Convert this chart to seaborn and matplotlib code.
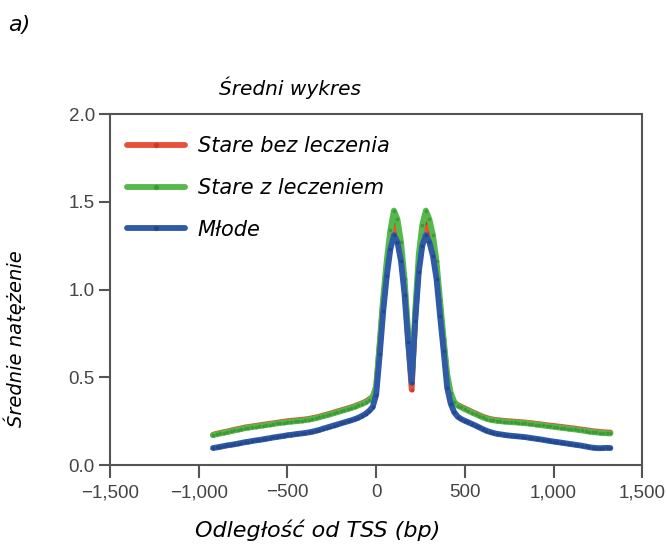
import numpy as np
import pandas as pd
import matplotlib
matplotlib.use('Agg')
import matplotlib.pyplot as plt
from matplotlib.lines import Line2D
from matplotlib.ticker import FuncFormatter
import seaborn as sns

# distance from TSS (bp), one point every 20 bp
odleglosc = np.arange(-920, 1321, 20)

stare_bez = [
    # -920 .. -20
    0.172, 0.178, 0.183, 0.187, 0.191, 0.196, 0.201, 0.205, 0.209, 0.214,
    0.217, 0.220, 0.223, 0.226, 0.229, 0.232, 0.235, 0.238, 0.241, 0.244,
    0.247, 0.250, 0.252, 0.254, 0.256, 0.258, 0.260, 0.263, 0.267, 0.271,
    0.276, 0.282, 0.287, 0.293, 0.299, 0.305, 0.311, 0.317, 0.323, 0.329,
    0.336, 0.344, 0.352, 0.361, 0.374, 0.389,
    # 0 .. 440
    0.44, 0.68, 0.93, 1.13, 1.29, 1.38, 1.33, 1.21, 1.01, 0.72,
    0.43, 0.84, 1.14, 1.30, 1.38, 1.33, 1.25, 1.10, 0.90, 0.69,
    0.50, 0.40, 0.35,
    # 460 .. 1320
    0.342, 0.332, 0.322, 0.313, 0.303, 0.294, 0.285, 0.276, 0.269, 0.263,
    0.259, 0.256, 0.254, 0.252, 0.250, 0.249, 0.247, 0.246, 0.244, 0.242,
    0.240, 0.238, 0.235, 0.233, 0.230, 0.227, 0.225, 0.223, 0.220, 0.218,
    0.215, 0.213, 0.210, 0.208, 0.205, 0.202, 0.199, 0.196, 0.193, 0.191,
    0.189, 0.187, 0.186, 0.185,
]

stare_z = [
    0.170, 0.175, 0.180, 0.184, 0.188, 0.192, 0.197, 0.201, 0.205, 0.210,
    0.213, 0.216, 0.219, 0.222, 0.225, 0.228, 0.231, 0.234, 0.237, 0.240,
    0.242, 0.245, 0.247, 0.249, 0.251, 0.253, 0.256, 0.259, 0.263, 0.267,
    0.272, 0.278, 0.283, 0.289, 0.295, 0.301, 0.307, 0.313, 0.319, 0.325,
    0.332, 0.340, 0.348, 0.357, 0.370, 0.385,
    0.45, 0.70, 0.96, 1.17, 1.34, 1.45, 1.40, 1.27, 1.06, 0.76,
    0.48, 0.88, 1.20, 1.37, 1.45, 1.40, 1.31, 1.16, 0.94, 0.72,
    0.52, 0.41, 0.36,
    0.338, 0.328, 0.318, 0.309, 0.299, 0.290, 0.281, 0.272, 0.265, 0.259,
    0.255, 0.252, 0.250, 0.248, 0.246, 0.245, 0.243, 0.242, 0.240, 0.238,
    0.236, 0.234, 0.231, 0.229, 0.226, 0.223, 0.220, 0.218, 0.215, 0.213,
    0.210, 0.208, 0.205, 0.203, 0.200, 0.197, 0.194, 0.191, 0.188, 0.186,
    0.184, 0.182, 0.181, 0.180,
]

mlode = [
    0.097, 0.100, 0.104, 0.108, 0.112, 0.115, 0.118, 0.122, 0.126, 0.130,
    0.133, 0.137, 0.140, 0.143, 0.146, 0.150, 0.153, 0.157, 0.160, 0.163,
    0.166, 0.170, 0.172, 0.175, 0.178, 0.180, 0.183, 0.186, 0.190, 0.195,
    0.200, 0.207, 0.213, 0.219, 0.225, 0.231, 0.237, 0.243, 0.249, 0.255,
    0.262, 0.270, 0.280, 0.292, 0.308, 0.330,
    0.40, 0.63, 0.88, 1.08, 1.23, 1.31, 1.27, 1.16, 0.97, 0.70,
    0.47, 0.82, 1.10, 1.25, 1.31, 1.27, 1.19, 1.06, 0.85, 0.65,
    0.44, 0.35, 0.30,
    0.275, 0.262, 0.252, 0.243, 0.234, 0.225, 0.215, 0.205, 0.196, 0.189,
    0.183, 0.178, 0.175, 0.172, 0.169, 0.167, 0.165, 0.163, 0.161, 0.159,
    0.156, 0.153, 0.150, 0.147, 0.144, 0.140, 0.137, 0.134, 0.131, 0.128,
    0.125, 0.122, 0.119, 0.116, 0.113, 0.110, 0.106, 0.102, 0.099, 0.097,
    0.096, 0.097, 0.098, 0.097,
]

grupy = ['Stare bez leczenia', 'Stare z leczeniem', 'Młode']
kolory = ['#e8503a', '#55b84a', '#2e5aa8']
kropki = ['#c83a2a', '#3e9a38', '#24488a']

df = pd.concat([
    pd.DataFrame({'x': odleglosc, 'y': vals, 'grupa': g})
    for g, vals in zip(grupy, [stare_bez, stare_z, mlode])
])

sns.set_style('white')
plt.rcParams['text.color'] = 'black'
ital = ['DejaVu Sans']

fig = plt.figure(figsize=(6.67, 5.51), dpi=100)
ax = fig.add_axes([0.165, 0.156, 0.798, 0.637])

sns.lineplot(data=df, x='x', y='y', hue='grupa', hue_order=grupy,
             palette=kolory, linewidth=4.2, marker='o', markersize=2.6,
             markeredgewidth=0, legend=False, ax=ax)
for ln, c in zip(ax.get_lines(), kropki):
    ln.set_markerfacecolor(c)

ax.set_xlim(-1500, 1500)
ax.set_ylim(0, 2.0)
ax.set_xticks([-1500, -1000, -500, 0, 500, 1000, 1500])
ax.set_yticks([0, 0.5, 1.0, 1.5, 2.0])
ax.xaxis.set_major_formatter(FuncFormatter(lambda v, p: f'{int(v):,}'.replace('-', '\u2212')))
ax.yaxis.set_major_formatter(FuncFormatter(lambda v, p: f'{v:.1f}'))

for s in ax.spines.values():
    s.set_color('#555555')
    s.set_linewidth(1.5)
ax.tick_params(axis='x', bottom=True, direction='out', length=9, width=1.5,
               color='#555555', labelsize=13.5, labelcolor='#444444', pad=5)
ax.tick_params(axis='y', left=True, direction='out', length=8, width=1.5,
               color='#555555', labelsize=13.5, labelcolor='#444444', pad=3)
for lab in ax.get_xticklabels() + ax.get_yticklabels():
    lab.set_family('Liberation Sans')

ax.set_xlabel('Odległość od TSS (bp)', family=ital, style='italic', fontsize=16,
              color='black')
ax.set_ylabel('Średnie natężenie', family=ital, style='italic', fontsize=14,
              color='black')
ax.xaxis.set_label_coords(0.39, -0.155)
ax.yaxis.set_label_coords(-0.158, 0.36)
ax.text(0.338, 1.075, 'Średni wykres', transform=ax.transAxes, ha='center',
        va='center', family=ital, style='italic', fontsize=14.5, color='black')
fig.text(0.012, 0.955, 'a)', family=ital, style='italic', fontsize=16, va='center',
         color='black')

uchwyty = [Line2D([], [], color=c, linewidth=4.2, marker='o', markersize=3.8,
                  markeredgewidth=0, markerfacecolor=k) for c, k in zip(kolory, kropki)]
leg = ax.legend(uchwyty, grupy, loc='upper left', frameon=False, handlelength=2.8,
                handletextpad=0.6, labelspacing=1.05, borderaxespad=0.4,
                bbox_to_anchor=(0.0, 0.985),
                prop={'family': ital, 'style': 'italic', 'size': 15})
for t in leg.get_texts():
    t.set_color('black')

fig.savefig('out.png', dpi=100)
